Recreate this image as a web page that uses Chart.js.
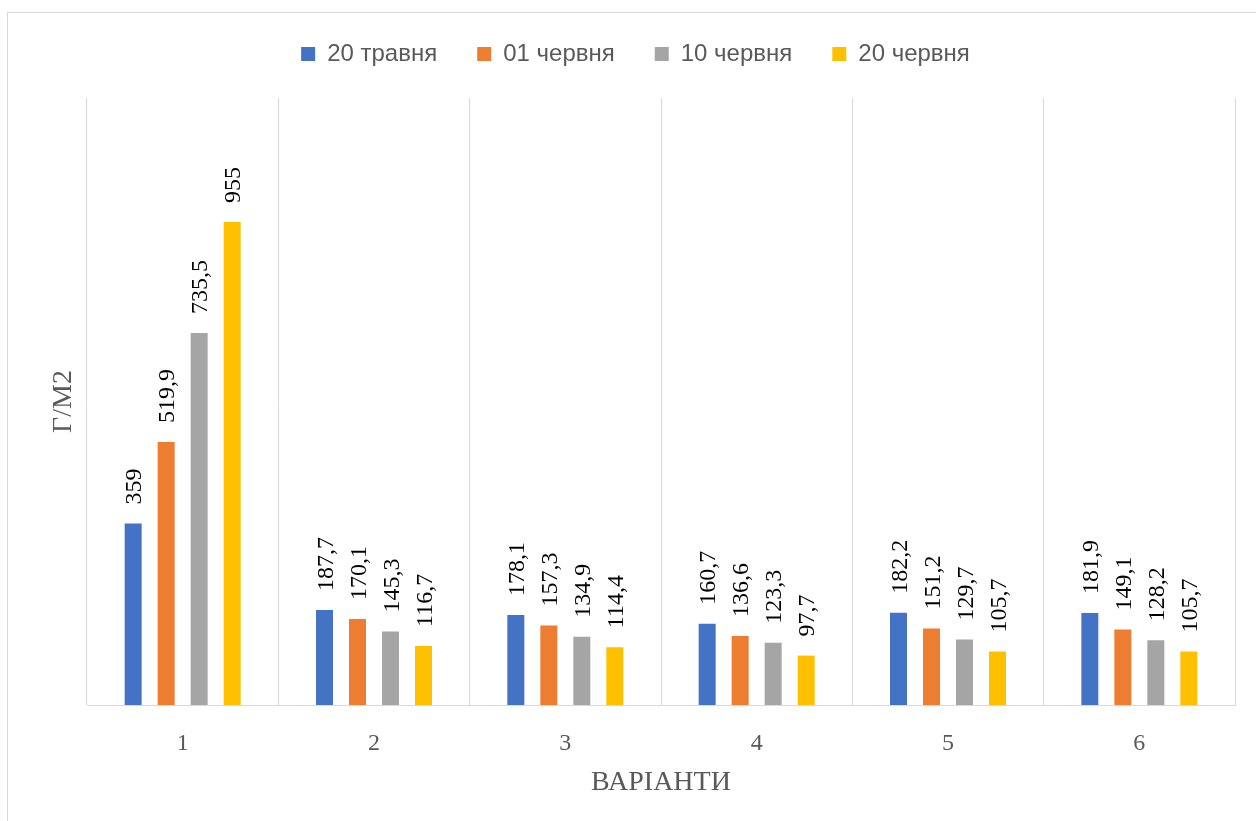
<!DOCTYPE html>
<html lang="uk">
<head>
<meta charset="utf-8">
<title>Варіанти</title>
<script src="https://cdn.jsdelivr.net/npm/chart.js@4.4.1/dist/chart.umd.min.js"></script>
<style>
  html, body { margin: 0; padding: 0; background: #ffffff; }
  #wrap { width: 1256px; height: 821px; position: relative; }
</style>
</head>
<body>
<div id="wrap"><canvas id="chart"></canvas></div>
<script>
// Categories (variants) and the four sampling dates
const variants = ['1', '2', '3', '4', '5', '6'];
const seriesNames = ['20 травня', '01 червня', '10 червня', '20 червня'];

const may20  = [359, 187.7, 178.1, 160.7, 182.2, 181.9];
const june01 = [519.9, 170.1, 157.3, 136.6, 151.2, 149.1];
const june10 = [735.5, 145.3, 134.9, 123.3, 129.7, 128.2];
const june20 = [955, 116.7, 114.4, 97.7, 105.7, 105.7];

const seriesColors = ['#4472C4', '#ED7D31', '#A5A5A5', '#FFC000'];
const seriesValues = [may20, june01, june10, june20];

const yMin = 0;
const yMax = 1200;

const GRID = '#d9d9d9';
const TEXT = '#595959';
const SERIF = "'Liberation Serif', 'Times New Roman', serif";
const SANS = "'Liberation Sans', Arial, sans-serif";

// Frame around the whole chart object
const framePlugin = {
  id: 'frame',
  beforeDraw(chart) {
    const ctx = chart.ctx;
    ctx.save();
    ctx.fillStyle = '#ffffff';
    ctx.fillRect(0, 0, chart.width, chart.height);
    ctx.strokeStyle = GRID;
    ctx.lineWidth = 1;
    ctx.strokeRect(7.5, 12.5, chart.width + 40, chart.height + 40);
    ctx.restore();
  }
};

// Rotated value labels above each bar
const valueLabels = {
  id: 'valueLabels',
  afterDatasetsDraw(chart) {
    const ctx = chart.ctx;
    const size = 24;
    ctx.save();
    ctx.font = size + 'px ' + SERIF;
    ctx.fillStyle = '#000000';
    ctx.textAlign = 'left';
    ctx.textBaseline = 'alphabetic';
    chart.data.datasets.forEach((ds, di) => {
      const meta = chart.getDatasetMeta(di);
      meta.data.forEach((bar, i) => {
        const text = String(ds.data[i]).replace('.', ',');
        ctx.save();
        ctx.translate(bar.x + size * 0.34, bar.y - 19);
        ctx.rotate(-Math.PI / 2);
        ctx.fillText(text, 0, 0);
        ctx.restore();
      });
    });
    ctx.restore();
  }
};

// Reserve room above the plot for the legend row and centre it on the frame
const legendSpace = {
  id: 'legendSpace',
  beforeInit(chart) {
    const originalFit = chart.legend.fit;
    chart.legend.fit = function () {
      originalFit.call(this);
      this.height = 98;
    };
  },
  afterLayout(chart) {
    const lg = chart.legend;
    lg.left += 18;
    lg.right += 18;
    lg.top += 2;
    lg.bottom += 2;
  }
};

const datasets = seriesNames.map((name, k) => ({
  label: name,
  data: seriesValues[k],
  backgroundColor: seriesColors[k],
  borderWidth: 0,
  categoryPercentage: 0.69,
  barPercentage: 0.515
}));

new Chart(document.getElementById('chart'), {
  type: 'bar',
  data: { labels: variants, datasets },
  options: {
    responsive: true,
    maintainAspectRatio: false,
    animation: false,
    layout: { padding: { top: 0, right: 21, bottom: 0, left: 0 } },
    plugins: {
      legend: {
        position: 'top',
        labels: {
          font: { family: SANS, size: 24 },
          color: TEXT,
          boxWidth: 14,
          boxHeight: 14,
          padding: 40
        }
      },
      tooltip: { enabled: false }
    },
    scales: {
      x: {
        grid: { color: GRID, lineWidth: 1, drawTicks: false, offset: true },
        border: { color: GRID },
        ticks: {
          font: { family: SERIF, size: 24 },
          color: TEXT,
          padding: 24
        },
        title: {
          display: true,
          text: 'ВАРІАНТИ',
          font: { family: SERIF, size: 28 },
          color: TEXT,
          padding: { top: 0, bottom: 22 }
        },
        afterFit(scale) { scale.height = 116; }
      },
      y: {
        min: yMin,
        max: yMax,
        grid: { display: false },
        border: { display: false },
        ticks: { display: false },
        title: {
          display: true,
          text: 'Г/М2',
          font: { family: SERIF, size: 28 },
          color: TEXT,
          padding: { top: 47, bottom: 0 }
        },
        afterFit(scale) { scale.width = 87; }
      }
    }
  },
  plugins: [framePlugin, legendSpace, valueLabels]
});
</script>
</body>
</html>
